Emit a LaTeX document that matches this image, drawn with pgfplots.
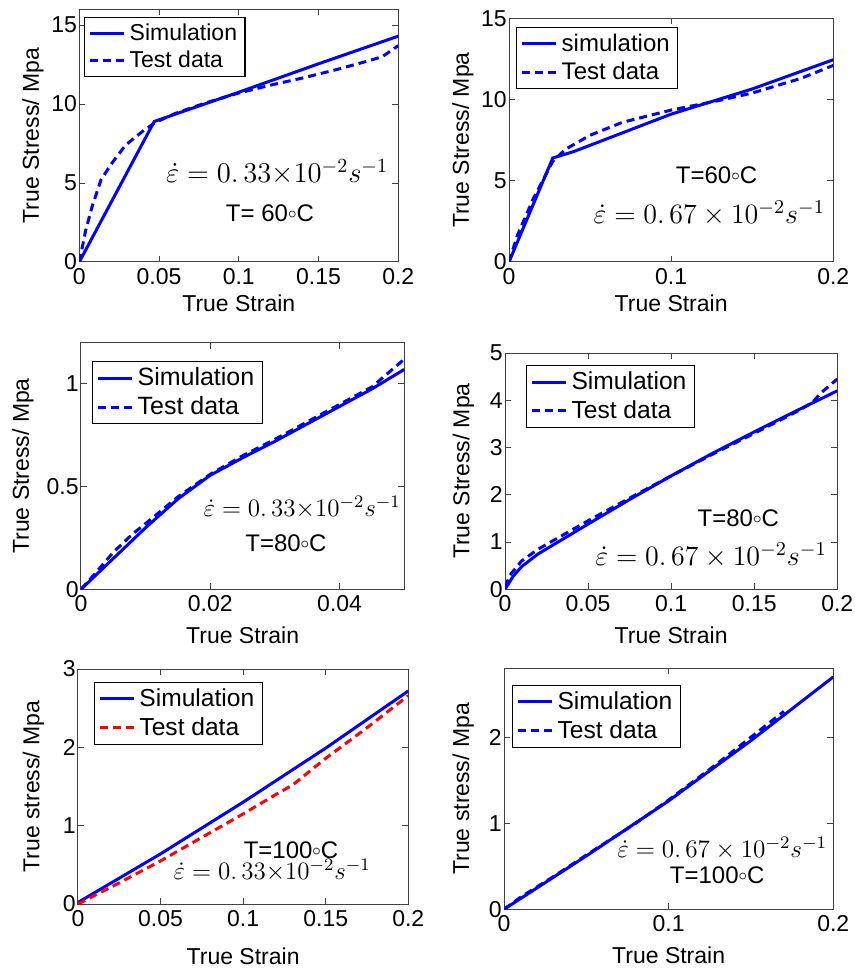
\RequirePackage{fix-cm}
\documentclass[border=0pt]{standalone}
\usepackage{fontspec}
\setmainfont{Liberation Sans}
\usepackage{pgfplots}
\pgfplotsset{compat=1.18}

\definecolor{simblue}{RGB}{0,0,255}
\definecolor{testred}{RGB}{255,0,0}

\newcommand{\lbl}{\fontsize{11.5}{13}\selectfont}
\newcommand{\degc}{$\vcenter{\hbox{$\scriptstyle\circ$}}$C}

\pgfplotsset{
  panel/.style={
    scale only axis, anchor=south west,
    axis line style={black!75, line width=0.5pt},
    tick align=inside, major tick length=3pt,
    tick style={black!75, line width=0.5pt},
    ticklabel style={font=\lbl},
    /pgf/number format/assume math mode=true,
    /pgf/number format/fixed,
    /pgf/number format/precision=2,
    scaled ticks=false,
    xticklabel style={inner sep=1pt, yshift=-2pt},
    yticklabel style={inner sep=1pt},
    label style={font=\lbl},
    legend cell align=left,
    legend style={draw=black, line width=0.6pt, fill=white, anchor=north west,
      inner xsep=2pt, inner ysep=1pt, row sep=0pt,
      nodes={inner sep=2pt}},
    legend image code/.code={\draw[##1, line width=1.5pt] (0pt,0pt) -- (17pt,0pt);},
    every axis plot/.append style={line width=1.5pt},
    xmin=0,
  },
  sim/.style={simblue, solid},
  test/.style={simblue, dash pattern=on 4pt off 2.5pt},
  xlab/.style={xlabel style={at={([yshift=-#1]axis description cs:0.5,0)}, anchor=center}},
  ylab/.style={ylabel style={at={([xshift=-#1]axis description cs:0,0.5)}, anchor=center}},
}

\begin{document}
\begin{tikzpicture}
\useasboundingbox (0,0) rectangle (427.5pt,485.5pt);

% ---------- T = 60 C, 0.33e-2 /s ----------
\begin{axis}[panel, at={(39.65pt,354.5pt)}, width=159.5pt, height=126.35pt,
  xmax=0.2, ymin=0, ymax=16,
  xtick={0,0.05,0.1,0.15,0.2}, ytick={0,5,10,15},
  xlabel={True Strain}, ylabel={True Stress/ Mpa}, xlab=20.5pt, ylab=23.2pt,
  legend style={at={(axis description cs:0.015,0.97)}, font=\fontsize{11.5}{13}\selectfont}]
\addplot[sim] coordinates {(0,0)(0.047,8.9)(0.1,10.75)(0.15,12.55)(0.2,14.3)};
\addlegendentry{Simulation}
\addplot[test] coordinates {(0,0)(0.004,2.0)(0.008,3.5)(0.0136,5.2)(0.02,6.2)(0.029,7.4)(0.04,8.3)(0.048,8.85)(0.06,9.4)(0.08,10.1)(0.1,10.7)(0.12,11.2)(0.14,11.65)(0.16,12.15)(0.18,12.7)(0.19,13.0)(0.2,13.7)};
\addlegendentry{Test data}
\node[font=\fontsize{14.3}{16}\selectfont] at (axis cs:0.124,5.7) {$\dot{\varepsilon}=0.\,33{\times}10^{-2}s^{-1}$};
\node[font=\fontsize{12}{14}\selectfont] at (axis cs:0.1195,3.1) {T= 60\degc};
\end{axis}

% ---------- T = 60 C, 0.67e-2 /s ----------
\begin{axis}[panel, at={(254.5pt,354.5pt)}, width=162.15pt, height=121.85pt,
  xmax=0.2, ymin=0, ymax=15,
  xtick={0,0.1,0.2}, ytick={0,5,10,15},
  xlabel={True Strain}, ylabel={True Stress/ Mpa}, xlab=20.5pt, ylab=23pt,
  legend style={at={(axis description cs:0.022,0.964)}, font=\fontsize{12}{14}\selectfont}]
\addplot[sim] coordinates {(0,0)(0.027,6.4)(0.04,6.8)(0.07,7.95)(0.1,9.1)(0.15,10.65)(0.2,12.45)};
\addlegendentry{simulation}
\addplot[test] coordinates {(0,0)(0.005,1.6)(0.015,3.9)(0.027,6.2)(0.035,6.95)(0.05,7.8)(0.07,8.6)(0.1,9.35)(0.13,9.95)(0.15,10.4)(0.18,11.3)(0.2,12.1)};
\addlegendentry{Test data}
\node[font=\fontsize{12}{14}\selectfont] at (axis cs:0.128,5.36) {T=60\degc};
\node[font=\fontsize{14}{16}\selectfont] at (axis cs:0.1235,3.02) {$\dot{\varepsilon}=0.\,67\times10^{-2}s^{-1}$};
\end{axis}

% ---------- T = 80 C, 0.33e-2 /s ----------
\begin{axis}[panel, at={(40.5pt,190.85pt)}, width=161.65pt, height=123.3pt,
  xmax=0.05, ymin=0, ymax=1.2,
  xtick={0,0.02,0.04}, ytick={0,0.5,1},
  xlabel={True Strain}, ylabel={True Stress/ Mpa}, xlab=23pt, ylab=29pt,
  legend style={at={(axis description cs:0.034,0.926)}, font=\fontsize{12.5}{14}\selectfont}]
\addplot[sim] coordinates {(0,0)(0.005,0.15)(0.01,0.3)(0.015,0.44)(0.02,0.555)(0.025,0.64)(0.03,0.72)(0.035,0.805)(0.04,0.89)(0.045,0.975)(0.05,1.07)};
\addlegendentry{Simulation}
\addplot[test] coordinates {(0,0)(0.002,0.07)(0.005,0.18)(0.008,0.27)(0.01,0.32)(0.015,0.45)(0.02,0.56)(0.025,0.65)(0.03,0.73)(0.035,0.815)(0.04,0.9)(0.045,0.985)(0.05,1.12)};
\addlegendentry{Test data}
\node[font=\fontsize{12.5}{14}\selectfont] at (axis cs:0.0342,0.40) {$\dot{\varepsilon}=0.\,33{\times}10^{-2}s^{-1}$};
\node[font=\fontsize{12}{14}\selectfont] at (axis cs:0.0317,0.225) {T=80\degc};
\end{axis}

% ---------- T = 80 C, 0.67e-2 /s ----------
\begin{axis}[panel, at={(252.5pt,190.85pt)}, width=166.15pt, height=118.15pt,
  xmax=0.2, ymin=0, ymax=5,
  xtick={0,0.05,0.1,0.15,0.2}, ytick={0,1,2,3,4,5},
  xlabel={True Strain}, ylabel={True Stress/ Mpa}, xlab=23pt, ylab=20.8pt,
  legend style={at={(axis description cs:0.063,0.949)}, font=\fontsize{12.3}{14}\selectfont}]
\addplot[sim] coordinates {(0,0)(0.005,0.28)(0.01,0.48)(0.02,0.75)(0.03,0.96)(0.05,1.38)(0.075,1.9)(0.1,2.4)(0.125,2.88)(0.15,3.33)(0.175,3.77)(0.2,4.2)};
\addlegendentry{Simulation}
\addplot[test] coordinates {(0,0.05)(0.003,0.3)(0.01,0.6)(0.02,0.85)(0.035,1.15)(0.05,1.45)(0.075,1.93)(0.1,2.4)(0.125,2.86)(0.15,3.3)(0.175,3.75)(0.185,3.95)(0.19,4.15)(0.2,4.45)};
\addlegendentry{Test data}
\node[font=\fontsize{12}{14}\selectfont] at (axis cs:0.1404,1.51) {T=80\degc};
\node[font=\fontsize{14}{16}\selectfont] at (axis cs:0.124,0.726) {$\dot{\varepsilon}=0.\,67\times10^{-2}s^{-1}$};
\end{axis}

% ---------- T = 100 C, 0.33e-2 /s ----------
\begin{axis}[panel, at={(39pt,33.5pt)}, width=165.15pt, height=117.5pt,
  xmax=0.2, ymin=0, ymax=3,
  xtick={0,0.05,0.1,0.15,0.2}, ytick={0,1,2,3},
  xlabel={True Strain}, ylabel={True stress/ Mpa}, xlab=26.3pt, ylab=22.3pt,
  legend style={at={(axis description cs:0.048,0.945)}, font=\fontsize{12.3}{14}\selectfont}]
\addplot[sim] coordinates {(0,0.02)(0.05,0.64)(0.1,1.3)(0.15,1.99)(0.2,2.72)};
\addlegendentry{Simulation}
\addplot[testred, dash pattern=on 4pt off 2.5pt] coordinates {(0,0)(0.025,0.27)(0.05,0.55)(0.075,0.85)(0.1,1.15)(0.12,1.4)(0.13,1.52)(0.15,1.86)(0.175,2.25)(0.2,2.66)};
\addlegendentry{Test data}
\node[font=\fontsize{12}{14}\selectfont] at (axis cs:0.129,0.69) {T=100\degc};
\node[font=\fontsize{12.5}{14}\selectfont] at (axis cs:0.1176,0.434) {$\dot{\varepsilon}=0.\,33{\times}10^{-2}s^{-1}$};
\end{axis}

% ---------- T = 100 C, 0.67e-2 /s ----------
\begin{axis}[panel, at={(252pt,30.85pt)}, width=164.65pt, height=120.5pt,
  xmax=0.2, ymin=0, ymax=2.8,
  xtick={0,0.1,0.2}, ytick={0,1,2},
  xlabel={True Strain}, ylabel={True stress/ Mpa}, xlab=22.9pt, ylab=20.4pt,
  legend style={at={(axis description cs:0.024,0.931)}, font=\fontsize{12.3}{14}\selectfont}]
\addplot[sim] coordinates {(0,0)(0.05,0.62)(0.1,1.26)(0.15,1.96)(0.2,2.7)};
\addlegendentry{Simulation}
\addplot[test] coordinates {(0,0)(0.01,0.14)(0.03,0.38)(0.05,0.63)(0.08,1.0)(0.1,1.27)(0.13,1.7)(0.15,2.0)(0.17,2.3)};
\addlegendentry{Test data}
\node[font=\fontsize{12.6}{15}\selectfont] at (axis cs:0.1325,0.712) {$\dot{\varepsilon}=0.\,67\times10^{-2}s^{-1}$};
\node[font=\fontsize{12}{14}\selectfont] at (axis cs:0.1295,0.40) {T=100\degc};
\end{axis}
\end{tikzpicture}
\end{document}
